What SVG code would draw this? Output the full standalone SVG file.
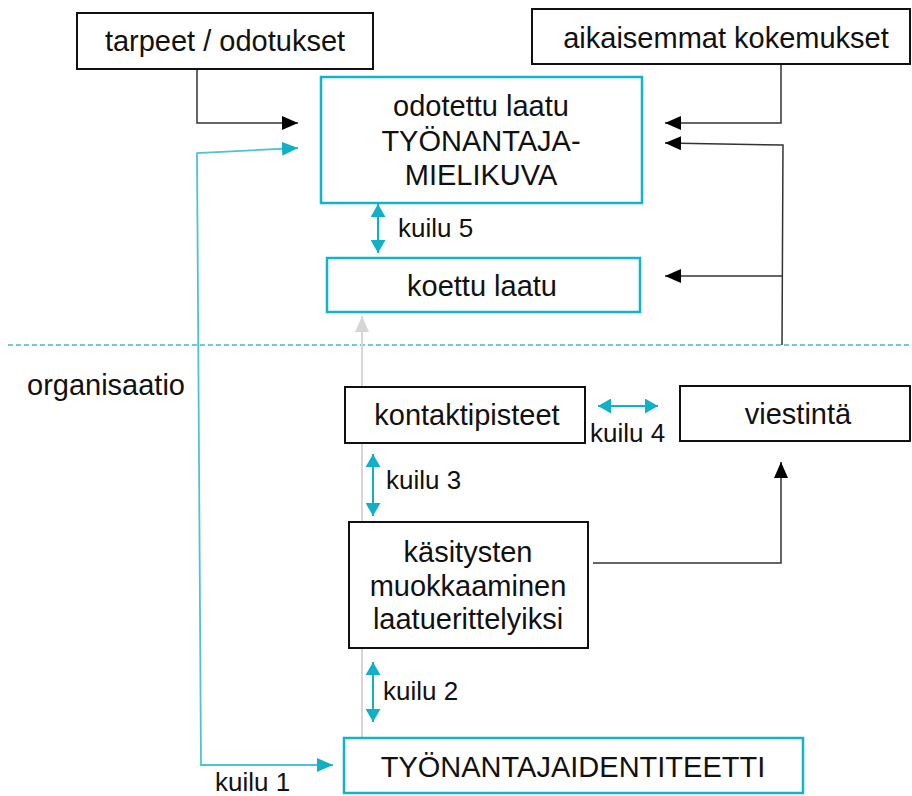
<svg xmlns="http://www.w3.org/2000/svg" width="912" height="796" viewBox="0 0 912 796">
<defs>
<style>
text{font-family:"Liberation Sans",Arial,sans-serif;fill:#111;}
.t{font-size:29px;text-anchor:middle;}
.k{font-size:26px;}
.bk{fill:#fff;stroke:#111;stroke-width:2;}
.cy{fill:#fff;stroke:#12b4cb;stroke-width:2.5;}
.ln{fill:none;stroke:#333;stroke-width:1.5;}
.lc{fill:none;stroke:#4cc4d6;stroke-width:1.8;}
.lg{fill:none;stroke:#d6d6d6;stroke-width:2;}
.gap{fill:none;stroke:#12b0c6;stroke-width:2;}
</style>
<marker id="ab" markerUnits="userSpaceOnUse" markerWidth="16" markerHeight="14" refX="16" refY="7" orient="auto-start-reverse"><path d="M0,0 L16,7 L0,14 Z" fill="#000"/></marker>
<marker id="ac" markerUnits="userSpaceOnUse" markerWidth="16" markerHeight="14" refX="16" refY="7" orient="auto-start-reverse"><path d="M0,0 L16,7 L0,14 Z" fill="#12b0c6"/></marker>
<marker id="ag" markerUnits="userSpaceOnUse" markerWidth="16" markerHeight="14" refX="16" refY="7" orient="auto-start-reverse"><path d="M0,0 L16,7 L0,14 Z" fill="#d6d6d6"/></marker>
<marker id="ak" markerUnits="userSpaceOnUse" markerWidth="13" markerHeight="15" refX="13" refY="7.5" orient="auto-start-reverse"><path d="M0,0 L13,7.5 L0,15 Z" fill="#12b0c6"/></marker>
</defs>
<rect width="912" height="796" fill="#fff"/>

<g id="connectors">
<line x1="8" y1="345" x2="912" y2="345" stroke="#3cbfd2" stroke-width="1.5" stroke-dasharray="5,3"/>
<path class="lg" d="M362,738 L362,316" marker-end="url(#ag)"/>
<path class="lc" d="M298,148 L197,153 L201,765 L333,765" marker-start="url(#ac)" marker-end="url(#ac)"/>
<path class="ln" d="M197,69 L197,123 L298,123" marker-end="url(#ab)"/>
<path class="ln" d="M781,64 L781,123 L665,123" marker-end="url(#ab)"/>
<path class="ln" d="M782,345 L783,145 L665,143" marker-end="url(#ab)"/>
<path class="ln" d="M782,276 L665,276" marker-end="url(#ab)"/>
<path class="ln" d="M593,563 L781,563 L781,462" marker-end="url(#ab)"/>
<path class="gap" d="M378,204 L378,253" marker-start="url(#ak)" marker-end="url(#ak)"/>
<path class="gap" d="M598,406 L658,406" marker-start="url(#ak)" marker-end="url(#ak)"/>
<path class="gap" d="M373,454 L373,516" marker-start="url(#ak)" marker-end="url(#ak)"/>
<path class="gap" d="M373,662 L373,722" marker-start="url(#ak)" marker-end="url(#ak)"/>
<text class="k" x="398" y="237">kuilu 5</text>
<text class="k" x="590" y="442">kuilu 4</text>
<text class="k" x="386" y="489">kuilu 3</text>
<text class="k" x="383" y="700">kuilu 2</text>
<text class="k" x="215" y="791">kuilu 1</text>
</g>

<g id="tarpeet">
<rect class="bk" x="77" y="13" width="296" height="56"/>
<text class="t" x="225" y="51">tarpeet / odotukset</text>
</g>

<g id="aikaisemmat">
<rect class="bk" x="532" y="9" width="378" height="55"/>
<text class="t" x="726" y="48">aikaisemmat kokemukset</text>
</g>

<g id="odotettu">
<rect class="cy" x="321" y="77" width="321" height="126"/>
<text class="t" x="481" y="116">odotettu laatu</text>
<text class="t" x="481" y="151">TYÖNANTAJA-</text>
<text class="t" x="481" y="185">MIELIKUVA</text>
</g>

<g id="koettu">
<rect class="cy" x="327" y="258" width="313" height="54"/>
<text class="t" x="482" y="296">koettu laatu</text>
</g>

<g id="organisaatio">
<text x="27" y="395" style="font-size:29px">organisaatio</text>
</g>

<g id="kontaktipisteet">
<rect class="bk" x="345" y="387" width="240" height="56"/>
<text class="t" x="467" y="425">kontaktipisteet</text>
</g>

<g id="viestinta">
<rect class="bk" x="680" y="386" width="230" height="55"/>
<text class="t" x="798" y="424">viestintä</text>
</g>

<g id="kasitysten">
<rect class="bk" x="349" y="522" width="239" height="126"/>
<text class="t" x="468" y="562">käsitysten</text>
<text class="t" x="468" y="596">muokkaaminen</text>
<text class="t" x="468" y="629">laatuerittelyiksi</text>
</g>

<g id="identiteetti">
<rect class="cy" x="344" y="738" width="459" height="55"/>
<text class="t" x="573" y="777">TYÖNANTAJAIDENTITEETTI</text>
</g>
</svg>
